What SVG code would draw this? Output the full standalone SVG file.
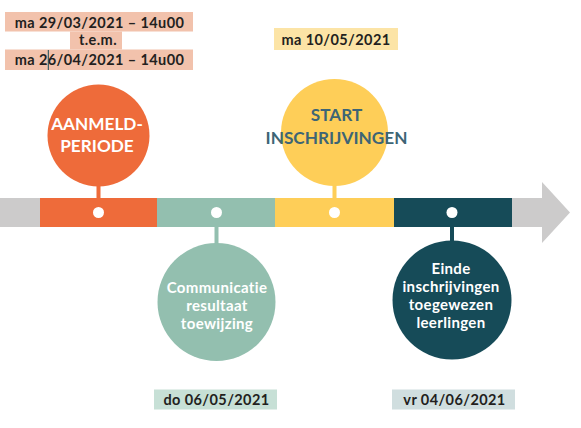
<svg xmlns="http://www.w3.org/2000/svg" width="581" height="428" viewBox="0 0 581 428">
<style>
.lbl{font-family:Lato,"Open Sans","Liberation Sans",sans-serif;font-weight:700;font-size:14.5px;letter-spacing:0.4px;fill:#231f20;text-anchor:middle}
.wt{font-family:Lato,"Open Sans","Liberation Sans",sans-serif;font-weight:700;fill:#ffffff;text-anchor:middle}
.sm{font-size:15px;letter-spacing:0.35px}
.big{font-size:17.2px}
.dot{fill:#ffffff}
</style>
<rect width="581" height="428" fill="#ffffff"/>
<g id="timeline">
<rect x="0" y="198" width="40" height="29" fill="#cccbcb"/>
<path d="M512 198 H542 V182 L570 212.5 L542 243 V227 H512 Z" fill="#cccbcb"/>
<rect x="40" y="198" width="117" height="29" fill="#ee6b3a"/>
<rect x="157" y="198" width="118" height="29" fill="#93bfaf"/>
<rect x="275" y="198" width="119" height="29" fill="#fece58"/>
<rect x="394" y="198" width="118" height="29" fill="#164b58"/>
</g>
<g id="connectors">
<rect x="96.5" y="180" width="4" height="18" fill="#ee6b3a"/>
<rect x="214.5" y="227" width="4" height="20" fill="#93bfaf"/>
<rect x="332.5" y="180" width="4" height="18" fill="#fece58"/>
<rect x="450" y="227" width="4" height="18" fill="#164b58"/>
</g>
<g id="dots">
<circle class="dot" cx="98.5" cy="212.5" r="5.5"/>
<circle class="dot" cx="216.5" cy="212.5" r="5.5"/>
<circle class="dot" cx="334.5" cy="212.5" r="5.5"/>
<circle class="dot" cx="452" cy="212.5" r="5.5"/>
</g>
<g id="aanmeldperiode">
<circle cx="98.5" cy="135.5" r="51" fill="#ee6b3a"/>
<text class="wt big" x="97" y="130">AANMELD-</text>
<text class="wt big" x="97" y="152">PERIODE</text>
</g>
<g id="start">
<circle cx="334.5" cy="132.5" r="53.5" fill="#fece58"/>
<text class="wt big" x="336.5" y="121" style="fill:#3d6575">START</text>
<text class="wt big" x="336.5" y="143.5" style="fill:#3d6575">INSCHRIJVINGEN</text>
</g>
<g id="communicatie">
<circle cx="216.5" cy="302" r="59" fill="#93bfaf"/>
<text class="wt sm" x="217" y="293">Communicatie</text>
<text class="wt sm" x="217" y="311">resultaat</text>
<text class="wt sm" x="217" y="329">toewijzing</text>
</g>
<g id="einde">
<circle cx="452" cy="300" r="59.5" fill="#164b58"/>
<text class="wt sm" x="451" y="273.5">Einde</text>
<text class="wt sm" x="451" y="291.5">inschrijvingen</text>
<text class="wt sm" x="451" y="309.5">toegewezen</text>
<text class="wt sm" x="451" y="327.5">leerlingen</text>
</g>
<g id="date-start-period">
<rect x="5" y="12" width="188" height="19.5" fill="#f2c2ac"/>
<rect x="70" y="31.5" width="52" height="18" fill="#f2c2ac"/>
<rect x="5" y="49.5" width="188" height="20.5" fill="#f2c2ac"/>
<text class="lbl" x="99.5" y="27.5">ma 29/03/2021 – 14u00</text>
<text class="lbl" x="98" y="45">t.e.m.</text>
<text class="lbl" x="99.5" y="65">ma 26/04/2021 – 14u00</text>
<rect x="47.8" y="50" width="1" height="20" fill="#164b58"/>
</g>
<g id="date-start">
<rect x="274" y="28" width="124" height="22" fill="#fce4a6"/>
<text class="lbl" x="336" y="44.5">ma 10/05/2021</text>
</g>
<g id="date-communicatie">
<rect x="154" y="389.5" width="123" height="20" fill="#c7e0d6"/>
<text class="lbl" x="216.5" y="405">do 06/05/2021</text>
</g>
<g id="date-einde">
<rect x="392" y="389.5" width="123" height="20" fill="#d0dedf"/>
<text class="lbl" x="454.5" y="405">vr 04/06/2021</text>
</g>
</svg>
